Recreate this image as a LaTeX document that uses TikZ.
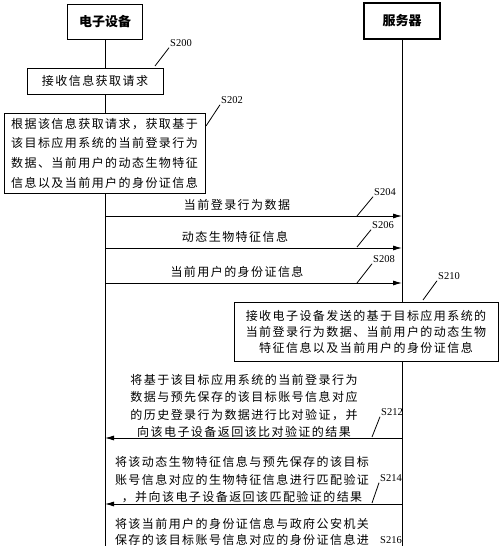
\documentclass[tikz,border=0pt]{standalone}
\usepackage{fontspec}
\setmainfont{Liberation Serif}
\newfontfamily\cjk{Noto Sans CJK SC}[LetterSpace=12]
\newfontfamily\cjkhead{Noto Sans CJK SC}
\usetikzlibrary{arrows.meta}
\tikzset{
  head/.style={draw,line width=1.4pt,minimum width=75pt,minimum height=35pt,
    font=\cjkhead\bfseries\fontsize{13}{15}\selectfont},
  stepbox/.style={draw,line width=0.8pt,inner sep=0pt,align=center,
    font=\cjk\fontsize{12}{16}\selectfont},
  msg/.style={inner sep=0pt,align=center,font=\cjk\fontsize{12}{17.5}\selectfont},
  lab/.style={inner sep=1pt,font=\fontsize{10.5}{12}\selectfont},
  life/.style={line width=0.8pt},
  call/.style={line width=0.8pt,-{Latex[length=9pt,width=5pt]}}
}
\begin{document}
\begin{tikzpicture}[x=1pt,y=-1pt]
      \useasboundingbox (0,0) rectangle (500,546);
      \draw
        (105,22) node[head] (dev){电子设备}
        (402,21) node[head,minimum width=76pt,minimum height=36pt] (srv){服务器}
        (95,81) node[stepbox,minimum width=136pt,minimum height=26pt] (s200){接收信息获取请求}
        (104.5,153) node[stepbox,minimum width=201pt,minimum height=80pt,
          font=\cjk\fontsize{12}{19.7}\selectfont] (s202){根据该信息获取请求，获取基于\\该目标应用系统的当前登录行为\\数据、当前用户的动态生物特征\\信息以及当前用户的身份证信息}
        (366,331.5) node[stepbox,minimum width=264pt,minimum height=59pt] (s210){接收电子设备发送的基于目标应用系统的\\当前登录行为数据、当前用户的动态生物\\特征信息以及当前用户的身份证信息};
      \draw
        (237,205) node[msg] (m204){当前登录行为数据}
        (235,237) node[msg] (m206){动态生物特征信息}
        (237,272) node[msg] (m208){当前用户的身份证信息}
        (244,406) node[msg] (m212){将基于该目标应用系统的当前登录行为\\数据与预先保存的该目标账号信息对应\\的历史登录行为数据进行比对验证，并\\向该电子设备返回该比对验证的结果}
        (242,480) node[msg] (m214){将该动态生物特征信息与预先保存的该目标\\账号信息对应的生物特征信息进行匹配验证\\，并向该电子设备返回该匹配验证的结果}
        (242,532) node[msg,font=\cjk\fontsize{12}{15.5}\selectfont] (m216){将该当前用户的身份证信息与政府公安机关\\保存的该目标账号信息对应的身份证信息进};
      \draw
        (181,43) node[lab] (l200){S200}
        (232,100) node[lab] (l202){S202}
        (385,192) node[lab] (l204){S204}
        (383,225) node[lab] (l206){S206}
        (384,259) node[lab] (l208){S208}
        (449,276) node[lab] (l210){S210}
        (392,412) node[lab] (l212){S212}
        (391,478) node[lab] (l214){S214}
        (391,540) node[lab] (l216){S216};
      \coordinate (devend) at (105,546);
      \coordinate (srvend) at (402,546);
      \coordinate (a204) at (105,216);
      \coordinate (b204) at (402,216);
      \coordinate (a206) at (105,248);
      \coordinate (b206) at (402,248);
      \coordinate (a208) at (105,283);
      \coordinate (b208) at (402,283);
      \coordinate (a212) at (105,438);
      \coordinate (b212) at (402,438);
      \coordinate (a214) at (105,504);
      \coordinate (b214) at (402,504);
      \begin{scope}[life]
        \draw (dev.south) to (dev.south |- s200.north);
        \draw (dev.south |- s200.south) to (dev.south |- s202.north);
        \draw (dev.south |- s202.south) to (devend);
        \draw (srv.south) to (srv.south |- s210.north);
        \draw (srv.south |- s210.south) to (srvend);
      \end{scope}
      \begin{scope}[call]
        \draw (a204) to (b204);
        \draw (a206) to (b206);
        \draw (a208) to (b208);
        \draw (b212) to (a212);
        \draw (b214) to (a214);
      \end{scope}
      \begin{scope}[line width=0.8pt]
        \draw (155,66) to (l200.south west);
        \draw (206,126) to (l202.south west);
        \draw (357,216) to (l204.south west);
        \draw (357,247) to (l206.south west);
        \draw (357,283) to (l208.south west);
        \draw (423,300) to (l210.south west);
        \draw (372,437) to (l212.south west);
        \draw (372,503) to (l214.south west);
      \end{scope}
    \end{tikzpicture}
\end{document}
